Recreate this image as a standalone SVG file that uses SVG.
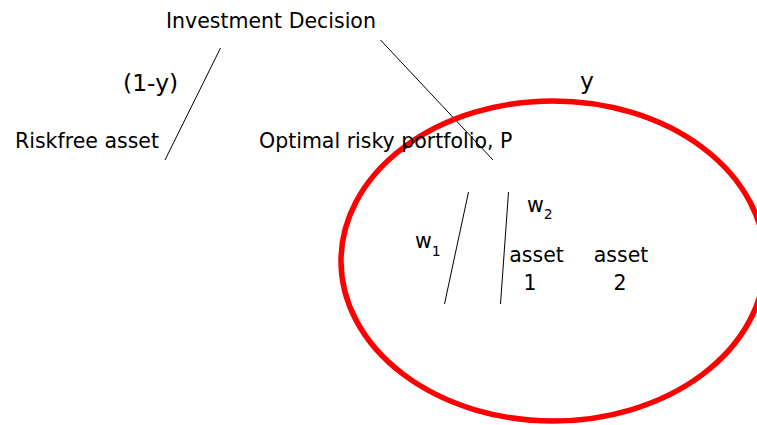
<svg xmlns="http://www.w3.org/2000/svg" width="757" height="425" viewBox="0 0 757 425">
<style>
text{font-family:"DejaVu Sans",sans-serif;font-size:20.5px;fill:#000}
.big{font-size:23.5px}
.sub{font-size:14px}
.ln{stroke:#000;stroke-width:1;fill:none}
</style>
<rect width="757" height="425" fill="#fff"/>
<g id="connectors">
<line class="ln" x1="220.5" y1="48" x2="165" y2="160"/>
<line class="ln" x1="380.5" y1="40" x2="493" y2="160"/>
<line class="ln" x1="468.5" y1="192" x2="444.5" y2="304"/>
<line class="ln" x1="508.5" y1="192" x2="500.5" y2="304"/>
</g>
<g id="portfolio-ellipse">
<ellipse cx="553" cy="261" rx="212" ry="160" fill="none" stroke="#ff0000" stroke-width="5.5"/>
</g>
<g id="investment-decision"><text x="166" y="28">Investment Decision</text></g>
<g id="label-1-y"><text class="big" x="123" y="91">(1-y)</text></g>
<g id="label-y"><text class="big" x="580" y="89">y</text></g>
<g id="riskfree-asset"><text x="15" y="148">Riskfree asset</text></g>
<g id="optimal-risky-portfolio"><text x="259" y="148">Optimal risky portfolio, P</text></g>
<g id="label-w1"><text x="415" y="248">w<tspan class="sub" dy="8">1</tspan></text></g>
<g id="label-w2"><text x="527" y="212">w<tspan class="sub" dy="7">2</tspan></text></g>
<g id="asset-1"><text x="536.5" y="262" text-anchor="middle">asset</text><text x="530" y="290" text-anchor="middle">1</text></g>
<g id="asset-2"><text x="621" y="262" text-anchor="middle">asset</text><text x="620" y="290" text-anchor="middle">2</text></g>
</svg>
